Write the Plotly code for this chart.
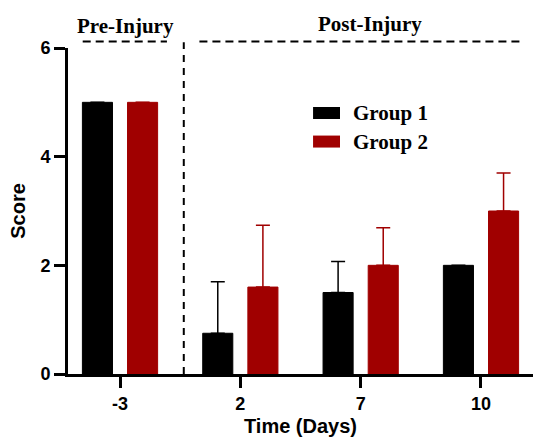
import plotly.graph_objects as go

# Score by day relative to injury
days = ["-3", "2", "7", "10"]
group_names = ["Group 1", "Group 2"]
group1_mean = [5.0, 0.75, 1.5, 2.0]
group1_err = [None, 0.95, 0.57, None]
group2_mean = [5.0, 1.6, 2.0, 3.0]
group2_err = [None, 1.14, 0.69, 0.7]
y_ticks = [0, 2, 4, 6]

colors = ["#000000", "#A00000"]
serif = "Liberation Serif"
sans = "Liberation Sans"

fig = go.Figure()
for name, means, errs, color, offset in [
    (group_names[0], group1_mean, group1_err, colors[0], -0.3125),
    (group_names[1], group2_mean, group2_err, colors[1], 0.0625),
]:
    fig.add_trace(go.Bar(
        x=days, y=means, name=name,
        width=0.25, offset=offset,
        marker=dict(color=color, line=dict(color=color, width=1)),
        error_y=dict(type="data", array=errs, arrayminus=[0] * len(errs),
                     symmetric=False, color=color, thickness=1.5, width=7),
        showlegend=False,
    ))

# Pre/post injury separators
dash_h = dict(color="black", width=2, dash="8px,5px")
dash_v = dict(color="black", width=2, dash="7px,6px")
fig.add_shape(type="line", xref="x", yref="paper", x0=0.53, x1=0.53,
              y0=0, y1=1.018, line=dash_v)
fig.add_shape(type="line", xref="x", yref="paper", x0=-0.31, x1=0.39,
              y0=1.0196, y1=1.0196, line=dash_h)
fig.add_shape(type="line", xref="x", yref="paper", x0=0.66, x1=3.34,
              y0=1.0196, y1=1.0196, line=dash_h)
fig.add_annotation(text="<b>Pre-Injury</b>", xref="x", yref="paper",
                   x=0.047, y=1.068, showarrow=False, yanchor="middle",
                   font=dict(family=serif, size=21, color="black"))
fig.add_annotation(text="<b>Post-Injury</b>", xref="x", yref="paper",
                   x=2.08, y=1.074, showarrow=False, yanchor="middle",
                   font=dict(family=serif, size=21, color="black"))

# Legend drawn as swatches with labels
legend_rows = [0.8006, 0.713]
for name, color, yc in zip(group_names, colors, legend_rows):
    fig.add_shape(type="rect", xref="paper", yref="paper",
                  x0=0.527, x1=0.585, y0=yc - 0.0184, y1=yc + 0.0184,
                  fillcolor=color, line=dict(width=0))
    fig.add_annotation(text=f"<b>{name}</b>", xref="paper", yref="paper",
                       x=0.608, y=yc, xanchor="left", yanchor="middle",
                       showarrow=False,
                       font=dict(family=serif, size=21, color="black"))

fig.update_layout(
    width=533, height=441,
    margin=dict(l=68, r=0, t=48, b=67, autoexpand=False),
    plot_bgcolor="white", paper_bgcolor="white",
    barmode="overlay",
)
fig.update_xaxes(
    type="category", range=[-0.4322, 3.4322], automargin=False,
    showline=True, linecolor="black", linewidth=3,
    ticks="outside", ticklen=11, tickwidth=3, tickcolor="black",
    tickfont=dict(family=sans, size=18, color="black", weight="bold"),
    ticklabelstandoff=0,
    title=dict(text="<b>Time (Days)</b>", standoff=7,
               font=dict(family=sans, size=20, color="black")),
    showgrid=False, zeroline=False,
)
fig.update_yaxes(
    range=[0, 6], tickvals=y_ticks, automargin=False,
    showline=True, linecolor="black", linewidth=3,
    ticks="outside", ticklen=11, tickwidth=3, tickcolor="black",
    tickfont=dict(family=sans, size=18, color="black", weight="bold"),
    title=dict(text="<b>Score</b>", standoff=10,
               font=dict(family=sans, size=20, color="black")),
    showgrid=False, zeroline=False,
)

fig.write_html("out.html")
